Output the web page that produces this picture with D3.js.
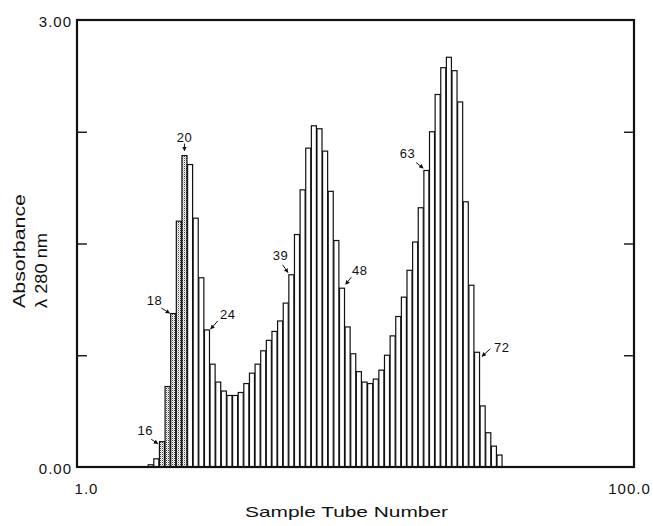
<!DOCTYPE html>
<html>
<head>
<meta charset="utf-8">
<script src="https://cdn.jsdelivr.net/npm/d3@7"></script>
<style>
  body { margin: 0; background: #fff; }
  text { font-family: "Liberation Sans", Arial, sans-serif; fill: #111; }
</style>
</head>
<body>
<div id="chart"></div>
<script>
// tubes and absorbance
const tubes = [14, 15, 16, 17, 18, 19, 20, 21, 22, 23,
  24, 25, 26, 27, 28, 29, 30, 31, 32, 33,
  34, 35, 36, 37, 38, 39, 40, 41, 42, 43,
  44, 45, 46, 47, 48, 49, 50, 51, 52, 53,
  54, 55, 56, 57, 58, 59, 60, 61, 62, 63,
  64, 65, 66, 67, 68, 69, 70, 71, 72, 73,
  74, 75, 76];
const absorbance = [0.015, 0.055, 0.17, 0.54, 1.03, 1.65, 2.09, 2.03, 1.67, 1.27,
  0.92, 0.69, 0.57, 0.51, 0.48, 0.48, 0.50, 0.56, 0.63, 0.69,
  0.78, 0.85, 0.91, 0.98, 1.10, 1.29, 1.56, 1.86, 2.14, 2.29,
  2.27, 2.12, 1.85, 1.52, 1.20, 0.94, 0.76, 0.64, 0.57, 0.56,
  0.59, 0.65, 0.75, 0.88, 1.01, 1.14, 1.32, 1.51, 1.74, 1.99,
  2.25, 2.50, 2.68, 2.75, 2.66, 2.45, 1.78, 1.22, 0.77, 0.41,
  0.23, 0.14, 0.08];
const stippled = [16, 17, 18, 19, 20];
const labelled = [16, 18, 20, 24, 39, 48, 63, 72];
const yTicks = [0.75, 1.5, 2.25];
const yLabels = [0, 3];
const xLabels = [1, 100];

const width = 653, height = 526;
const margin = { top: 20, right: 19, bottom: 59, left: 77 };

const svg = d3.select("#chart")
  .append("svg")
  .attr("width", width)
  .attr("height", height);

const x = d3.scaleLinear().domain([1, 100]).range([margin.left, width - margin.right]);
const y = d3.scaleLinear().domain([0, 3]).range([height - margin.bottom, margin.top]);

// stipple pattern for the shaded tubes
const pat = svg.append("defs").append("pattern")
  .attr("id", "stipple")
  .attr("patternUnits", "userSpaceOnUse")
  .attr("width", 2).attr("height", 2);
pat.append("rect").attr("width", 2).attr("height", 2).attr("fill", "#fff");
pat.append("rect").attr("width", 1).attr("height", 1).attr("fill", "#444");
pat.append("rect").attr("x", 1).attr("y", 1).attr("width", 1).attr("height", 1).attr("fill", "#c8c8c8");

svg.select("defs").append("marker")
  .attr("id", "arrow")
  .attr("viewBox", "0 0 6 6")
  .attr("refX", 5).attr("refY", 3)
  .attr("markerWidth", 4.5).attr("markerHeight", 4.5)
  .attr("orient", "auto")
  .append("path")
  .attr("d", "M0,0L6,3L0,6Z")
  .attr("fill", "#111");

const data = tubes.map((t, i) => ({ tube: t, value: absorbance[i] }));
const step = x(2) - x(1);

// bars
svg.append("g")
  .selectAll("rect")
  .data(data)
  .join("rect")
  .attr("x", d => x(d.tube - 0.4) + 0.3)
  .attr("y", d => y(d.value))
  .attr("width", step - 0.6)
  .attr("height", d => y(0) - y(d.value))
  .attr("fill", d => stippled.includes(d.tube) ? "url(#stipple)" : "#fff")
  .attr("stroke", "#111")
  .attr("stroke-width", 1.2);

// frame
svg.append("rect")
  .attr("x", x(1))
  .attr("y", y(3))
  .attr("width", x(100) - x(1))
  .attr("height", y(0) - y(3))
  .attr("fill", "none")
  .attr("stroke", "#111")
  .attr("stroke-width", 2.2);

// inner ticks on both sides
svg.append("g")
  .attr("transform", "translate(" + x(1) + ",0)")
  .call(d3.axisLeft(y).tickValues(yTicks).tickSize(-10).tickFormat(""))
  .call(g => g.select(".domain").remove())
  .selectAll("line").attr("stroke", "#111").attr("stroke-width", 1.4);

svg.append("g")
  .attr("transform", "translate(" + x(100) + ",0)")
  .call(d3.axisRight(y).tickValues(yTicks).tickSize(-10).tickFormat(""))
  .call(g => g.select(".domain").remove())
  .selectAll("line").attr("stroke", "#111").attr("stroke-width", 1.4);

// tick labels
svg.append("g")
  .attr("transform", "translate(" + x(1) + ",0)")
  .call(d3.axisLeft(y).tickValues(yLabels).tickSize(0).tickPadding(5).tickFormat(d3.format(".2f")))
  .call(g => g.select(".domain").remove())
  .selectAll("text")
  .attr("dy", "0.4em")
  .attr("font-size", 15)
  .attr("letter-spacing", 1)
  .attr("font-family", "Liberation Sans, Arial, sans-serif");

svg.append("g")
  .attr("transform", "translate(0," + y(0) + ")")
  .call(d3.axisBottom(x).tickValues(xLabels).tickSize(0).tickPadding(16).tickFormat(d3.format(".1f")))
  .call(g => g.select(".domain").remove())
  .selectAll("text")
  .attr("dx", d => d === 1 ? 9 : -5)
  .attr("font-size", 15)
  .attr("letter-spacing", 1)
  .attr("font-family", "Liberation Sans, Arial, sans-serif");

// axis titles
svg.append("text")
  .attr("x", 346.5)
  .attr("y", 517)
  .attr("text-anchor", "middle")
  .attr("font-size", 15)
  .attr("textLength", 203)
  .attr("lengthAdjust", "spacingAndGlyphs")
  .text("Sample Tube Number");

svg.append("text")
  .attr("transform", "translate(25,308) rotate(-90)")
  .attr("font-size", 17)
  .attr("textLength", 114)
  .attr("lengthAdjust", "spacingAndGlyphs")
  .text("Absorbance");

svg.append("text")
  .attr("transform", "translate(47,308) rotate(-90)")
  .attr("font-size", 17)
  .attr("textLength", 75)
  .attr("lengthAdjust", "spacingAndGlyphs")
  .text("λ 280 nm");

// tube annotations: offsets from the bar corner (text, arrow tail, arrow tip)
const placement = {
  16: { side: "left", text: [-14, -7], tail: [-8, -2.5], tip: [-1.5, 2] },
  18: { side: "left", text: [-16, -9], tail: [-9, -5.5], tip: [-1, -0.5] },
  20: { side: "top", text: [0, -14], tail: [0, -12], tip: [0, -5] },
  24: { side: "right", text: [18, -11], tail: [8, -9], tip: [1, -1] },
  39: { side: "left", text: [-8, -15], tail: [-6, -10], tip: [-0.7, -2.5] },
  48: { side: "right", text: [15, -13.5], tail: [6.5, -11], tip: [1, -4] },
  63: { side: "left", text: [-16, -12], tail: [-7.5, -8], tip: [-0.5, -2.5] },
  72: { side: "right", text: [22, 0], tail: [10.5, -3.5], tip: [2.3, 4] }
};

function corner(d) {
  const p = placement[d.tube];
  const cx = p.side === "left" ? x(d.tube - 0.4) : p.side === "right" ? x(d.tube + 0.6) : x(d.tube + 0.1);
  return [cx, y(d.value)];
}

const notes = svg.append("g")
  .selectAll("g")
  .data(data.filter(d => labelled.includes(d.tube)))
  .join("g");

notes.append("line")
  .attr("x1", d => corner(d)[0] + placement[d.tube].tail[0])
  .attr("y1", d => corner(d)[1] + placement[d.tube].tail[1])
  .attr("x2", d => corner(d)[0] + placement[d.tube].tip[0])
  .attr("y2", d => corner(d)[1] + placement[d.tube].tip[1])
  .attr("stroke", "#111")
  .attr("stroke-width", 1)
  .attr("marker-end", "url(#arrow)");

notes.append("text")
  .attr("x", d => corner(d)[0] + placement[d.tube].text[0])
  .attr("y", d => corner(d)[1] + placement[d.tube].text[1])
  .attr("text-anchor", "middle")
  .attr("font-size", 13)
  .attr("letter-spacing", 0.5)
  .text(d => d.tube);
</script>
</body>
</html>
